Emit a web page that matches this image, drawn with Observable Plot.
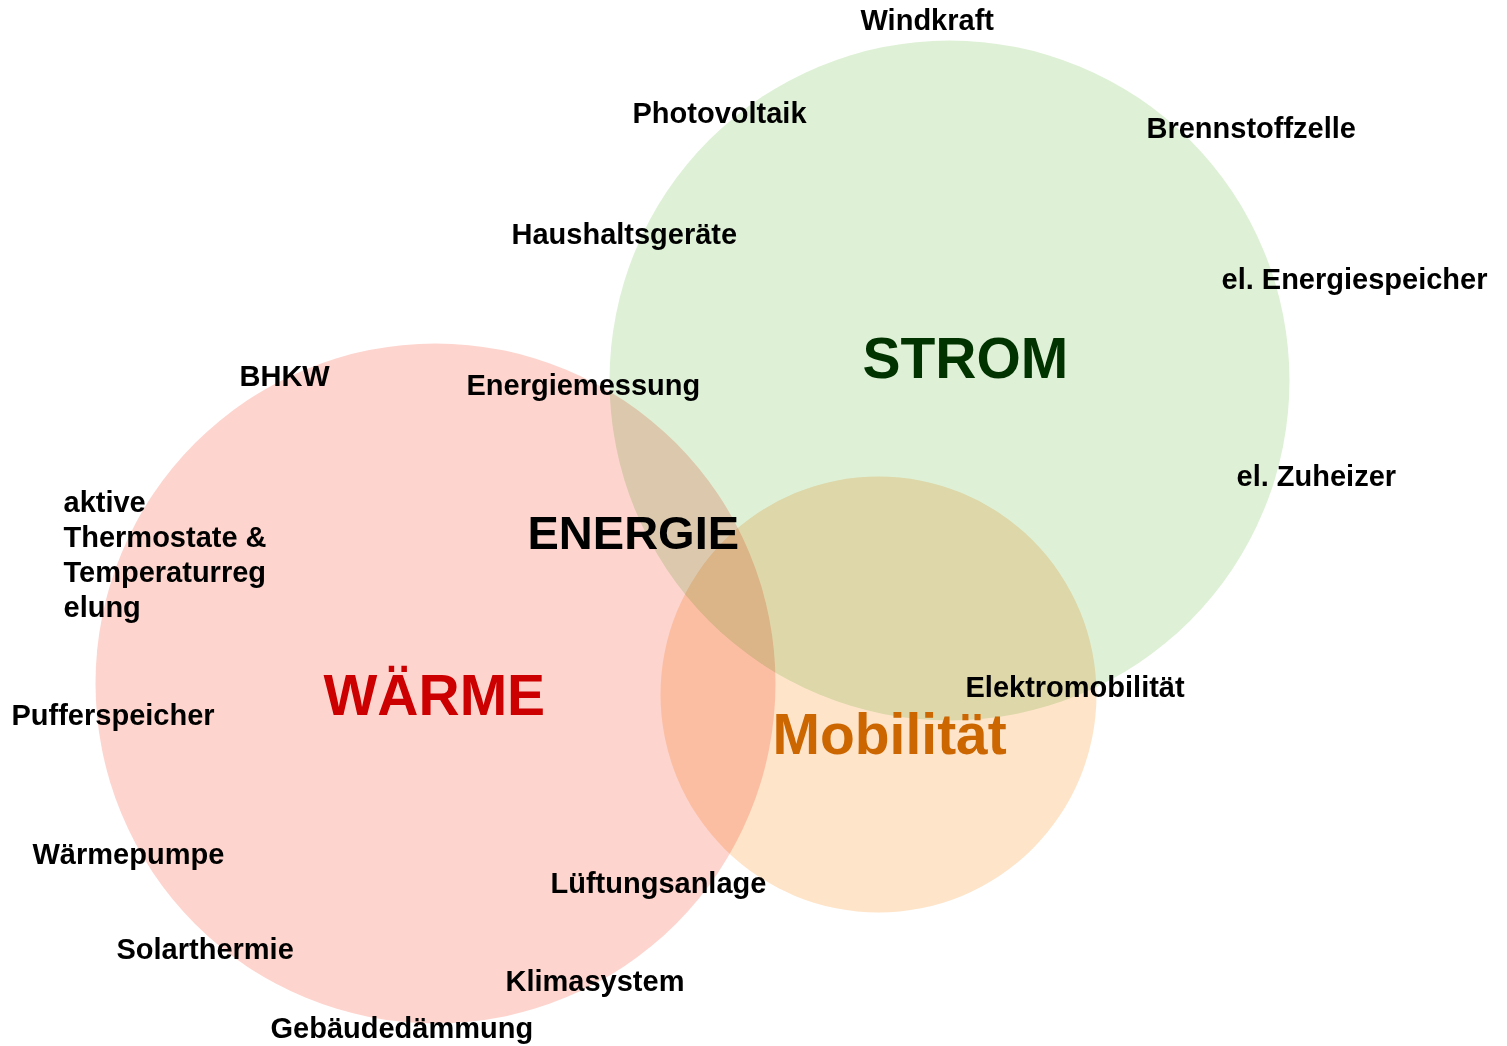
<!DOCTYPE html>
<html>
<head>
<meta charset="utf-8">
<script src="https://cdn.jsdelivr.net/npm/d3@7"></script>
<script src="https://cdn.jsdelivr.net/npm/@observablehq/plot@0.6"></script>
<style>
  html, body { margin: 0; padding: 0; background: #fff; }
  #chart svg circle { mix-blend-mode: multiply; }
</style>
</head>
<body>
<div id="chart"></div>
<script>
// Sets of the Venn diagram (center and radius in chart units)
const setNames  = ["WÄRME", "STROM", "Mobilität"];
const setCx     = [435, 949, 878];
const setCy     = [683, 380, 694];
const setRadius = [340, 340, 218];
const setFills  = ["#fdd5ce", "#def1d6", "#fee4c9"];

// Set title labels
const titleNames  = ["WÄRME", "STROM", "Mobilität"];
const titleX      = [323, 862, 772];
const titleY      = [714, 377, 753];
const titleColors = ["#cc0000", "#003300", "#cc6600"];

// Centre label
const centerLabel = ["ENERGIE"];
const centerX = [527];
const centerY = [548];

// Item labels
const itemNames = [
  "Windkraft", "Photovoltaik", "Brennstoffzelle", "Haushaltsgeräte",
  "el. Energiespeicher", "BHKW", "Energiemessung", "el. Zuheizer",
  "aktive\nThermostate &\nTemperaturreg\nelung",
  "Elektromobilität", "Pufferspeicher", "Wärmepumpe", "Lüftungsanlage",
  "Solarthermie", "Klimasystem", "Gebäudedämmung"
];
const itemX = [860, 632, 1146, 511, 1221, 239, 466, 1236, 63, 965, 11, 32, 550, 116, 505, 270];
const itemY = [29, 122, 137, 243, 288, 385, 394, 485, 616, 696, 724, 863, 892, 958, 990, 1037];

const circles = setNames.map((name, i) => ({name, x: setCx[i], y: setCy[i], r: setRadius[i], fill: setFills[i]}));
const titles = titleNames.map((t, i) => ({t, x: titleX[i], y: titleY[i], c: titleColors[i]}));
const centers = centerLabel.map((t, i) => ({t, x: centerX[i], y: centerY[i]}));
const items = itemNames.map((t, i) => ({t, x: itemX[i], y: itemY[i]}));

const W = 1507, H = 1046;
const font = "'Liberation Sans', Arial, sans-serif";

const chart = Plot.plot({
  width: W,
  height: H,
  margin: 0,
  x: {domain: [0, W], axis: null},
  y: {domain: [0, H], reverse: true, axis: null},
  r: {type: "identity"},
  color: {type: "identity"},
  style: {fontFamily: font, background: "white"},
  marks: [
    Plot.dot(circles, {x: "x", y: "y", r: "r", fill: "fill", fillOpacity: 1, stroke: "none"}),
    Plot.text(items, {x: "x", y: "y", text: "t", textAnchor: "start", lineAnchor: "bottom",
      fontSize: 29, fontWeight: "bold", lineHeight: 1.2, fill: "#000", fontFamily: font}),
    Plot.text(centers, {x: "x", y: "y", text: "t", textAnchor: "start", lineAnchor: "bottom",
      fontSize: 47, fontWeight: "bold", fill: "#000", fontFamily: font}),
    Plot.text(titles, {x: "x", y: "y", text: "t", textAnchor: "start", lineAnchor: "bottom",
      fontSize: 57, fontWeight: "bold", fill: "c", fontFamily: font})
  ]
});
document.getElementById("chart").appendChild(chart);
</script>
</body>
</html>
